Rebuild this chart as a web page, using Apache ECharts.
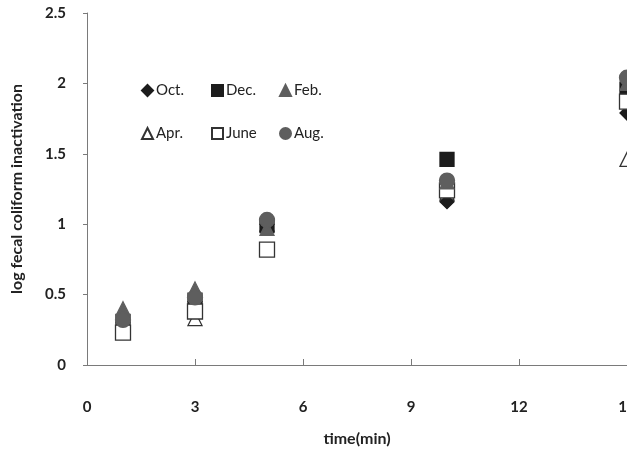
<!DOCTYPE html>
<html>
<head>
<meta charset="utf-8">
<script src="https://cdn.jsdelivr.net/npm/echarts@6/dist/echarts.min.js"></script>
<style>
  html, body { margin: 0; padding: 0; background: #fff; }
  #chart { width: 627px; height: 450px; }
</style>
</head>
<body>
<div id="chart"></div>
<script>
// Exposure time (min)
var time = [1, 3, 5, 10, 15];
// log fecal coliform inactivation per sampling month
var oct  = [0.30, 0.45, 1.00, 1.16, 1.79];
var dec  = [0.31, 0.46, 0.99, 1.46, 1.96];
var feb  = [0.40, 0.54, 0.97, 1.30, 2.00];
var apr  = [0.27, 0.33, 1.00, 1.22, 1.46];
var june = [0.23, 0.38, 0.82, 1.24, 1.87];
var aug  = [0.32, 0.48, 1.03, 1.31, 2.04];
var xTicks = [0, 3, 6, 9, 12, 15];
var yTicks = [0, 0.5, 1, 1.5, 2, 2.5];

var FONT = 'Lato';
var DARK = '#1c1c1c';
var GRAY = '#5e5e5e';

function pairs(vals) {
  return time.map(function (t, i) { return [t, vals[i]]; });
}

// legend order
var seriesDefs = [
  { name: 'Oct.', data: oct,  symbol: 'diamond',  size: 14, fill: DARK,  border: DARK },
  { name: 'Dec.', data: dec,  symbol: 'rect',     size: 14, fill: DARK,  border: DARK },
  { name: 'Feb.', data: feb,  symbol: 'triangle', size: 14, fill: GRAY,  border: GRAY },
  { name: 'Apr.', data: apr,  symbol: 'triangle', size: 14, fill: '#fff', border: '#333' },
  { name: 'June', data: june, symbol: 'rect',     size: 15, fill: '#fff', border: '#333' },
  { name: 'Aug.', data: aug,  symbol: 'circle',   size: 15, fill: GRAY,  border: GRAY }
];
// stacking order of the markers (later = on top)
var drawOrder = [3, 0, 1, 4, 2, 5];

// legend placed as a 3 x 2 block inside the plot
var legendPos = [
  [141, 83], [211, 83], [279, 83],
  [141, 126], [211, 126], [279, 126]
];

var legends = seriesDefs.map(function (s, i) {
  return {
    data: [s.name],
    left: legendPos[i][0],
    top: legendPos[i][1],
    orient: 'horizontal',
    itemWidth: 11,
    itemHeight: 11,
    itemGap: 0,
    padding: 0,
    selectedMode: false,
    textStyle: { fontFamily: FONT, fontSize: 15, color: '#222', padding: [0, 0, 0, -2] }
  };
});

var option = {
  backgroundColor: '#fff',
  animation: false,
  legend: legends,
  grid: { left: 87, right: 0, top: 13, bottom: 85, containLabel: false, outerBoundsMode: 'none' },
  xAxis: {
    type: 'value',
    min: 0, max: 15, interval: 3,
    name: 'time(min)',
    nameLocation: 'middle',
    nameGap: 66,
    nameTextStyle: { fontFamily: FONT, fontWeight: 'bold', fontSize: 16, color: '#222' },
    axisLine: { lineStyle: { color: '#7a7a7a', width: 1 } },
    axisTick: { inside: true, length: 6, lineStyle: { color: '#7a7a7a' } },
    axisLabel: {
      margin: 35, fontFamily: FONT, fontWeight: 'bold', fontSize: 15, color: '#222',
      formatter: function (v) { return xTicks.indexOf(v) >= 0 ? String(v) : ''; }
    },
    splitLine: { show: false }
  },
  yAxis: {
    type: 'value',
    min: 0, max: 2.5, interval: 0.5,
    name: 'log fecal coliform inactivation',
    nameLocation: 'middle',
    nameGap: 62,
    nameTextStyle: { fontFamily: FONT, fontWeight: 'bold', fontSize: 16, color: '#222' },
    axisLine: { show: true, lineStyle: { color: '#7a7a7a', width: 1 } },
    axisTick: { show: true, inside: false, length: 4, lineStyle: { color: '#7a7a7a' } },
    axisLabel: {
      margin: 21, fontFamily: FONT, fontWeight: 'bold', fontSize: 15, color: '#222',
      formatter: function (v) { return yTicks.indexOf(v) >= 0 ? String(v) : ''; }
    },
    splitLine: { show: false }
  },
  series: drawOrder.map(function (k) {
    var s = seriesDefs[k];
    return {
      name: s.name,
      type: 'scatter',
      data: pairs(s.data),
      symbol: s.symbol,
      symbolSize: s.size,
      clip: false,
      itemStyle: { color: s.fill, borderColor: s.border, borderWidth: 1.3, opacity: 1 }
    };
  })
};

var chart = echarts.init(document.getElementById('chart'), null, { renderer: 'canvas' });
chart.setOption(option);
</script>
</body>
</html>
